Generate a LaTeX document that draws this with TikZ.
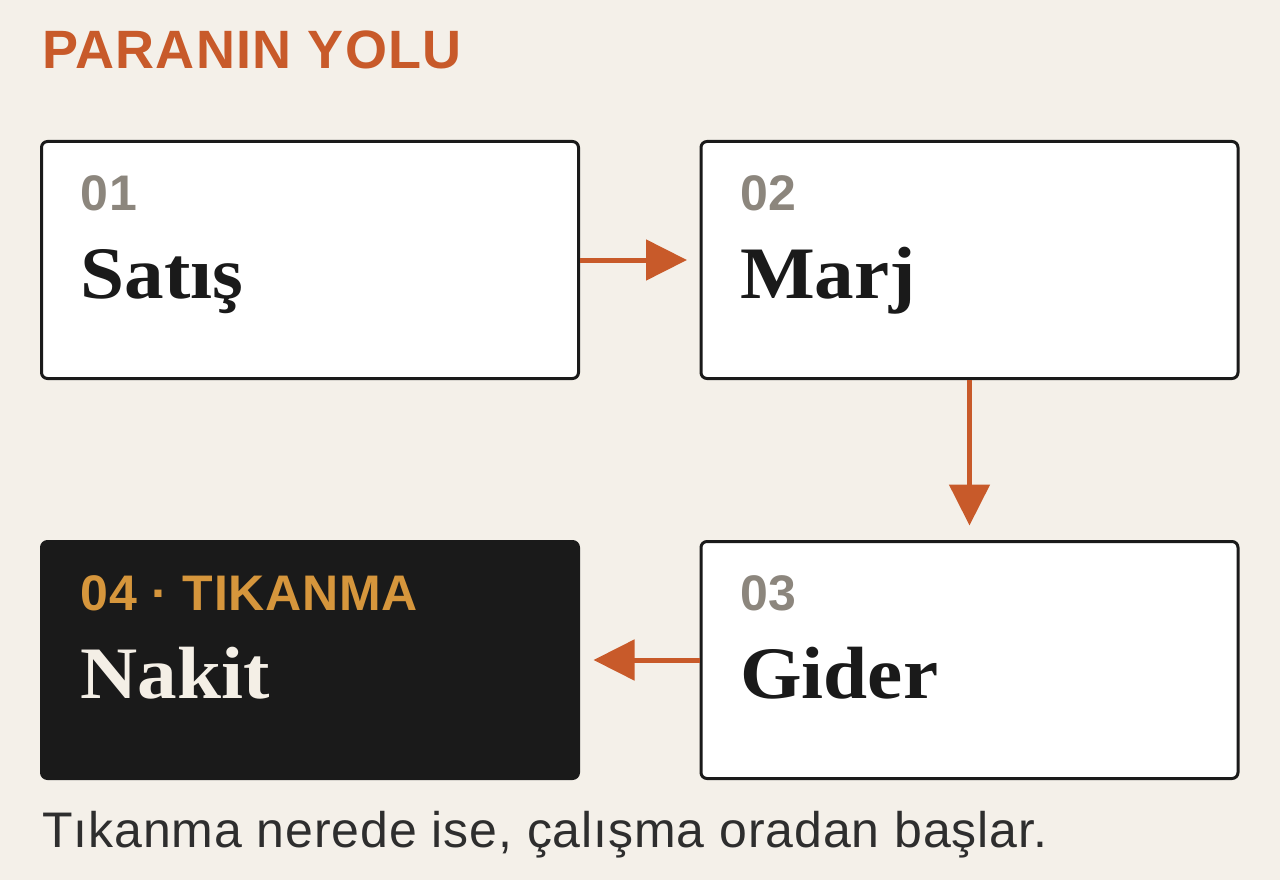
\documentclass[tikz,border=0pt]{standalone}
\usepackage{fontspec}
\setmainfont{Liberation Serif}
\setsansfont{Liberation Sans}
\newfontfamily\titlefont[LetterSpace=2.3]{Liberation Sans}
\newfontfamily\labelfont[LetterSpace=1.5]{Liberation Sans}
\newfontfamily\notefont[LetterSpace=1.8]{Liberation Sans}
\newfontfamily\namefont[FakeStretch=1.07]{Liberation Serif}
\usetikzlibrary{calc,arrows.meta}
\definecolor{paper}{RGB}{244,240,233}
\definecolor{rust}{RGB}{200,90,42}
\definecolor{ink}{RGB}{26,26,26}
\definecolor{stone}{RGB}{140,134,125}
\definecolor{ochre}{RGB}{214,150,60}
\definecolor{cream}{RGB}{244,239,230}
\definecolor{note}{RGB}{46,46,46}
\newcommand{\bw}{537}
\newcommand{\bh}{237}

\begin{document}
\begin{tikzpicture}[x=1pt,y=-1pt,
  stepbox/.style={draw=ink,line width=3pt,fill=white,rounded corners=6pt,
    minimum width=\bw pt,minimum height=\bh pt,inner sep=0pt},
  numtext/.style={anchor=base west,inner sep=0pt,text=stone,
    font=\labelfont\bfseries\fontsize{50}{60}\selectfont},
  nametext/.style={anchor=base west,inner sep=0pt,text=ink,
    font=\namefont\bfseries\fontsize{74}{80}\selectfont},
  flow/.style={draw=rust,line width=5pt,shorten >=#1,
    -{Triangle[length=41pt,width=40pt]}}]
\useasboundingbox (0,0) rectangle (1280,880);
\fill[paper] (0,0) rectangle (1280,880);

\node[anchor=base west,inner sep=0pt,text=rust,
  font=\titlefont\bfseries\fontsize{54}{60}\selectfont] (title) at (42,69) {PARANIN YOLU};

\foreach \n/\x/\y in {s1/310/260,s2/969.5/260,s3/969.5/660}{
\node[stepbox] (\n) at (\x,\y) {};
}
\node[stepbox,draw=ink,fill=ink] (s4) at (310,660) {};

\foreach \n/\num/\name in {s1/01/Satış,s2/02/Marj,s3/03/Gider}{
\node[numtext] (\n num) at ($(\n.north west)+(40.5,70.5)$) {\num};
\node[nametext] (\n name) at ($(\n.north west)+(40.5,158.5)$) {\name};
}
\node[numtext,text=ochre] (s4num) at ($(s4.north west)+(40.5,70.5)$) {04 · TIKANMA};
\node[nametext,text=cream] (s4name) at ($(s4.north west)+(40.5,158.5)$) {Nakit};

\draw[flow=12.5pt] (s1.east) -- (s2.west);
\draw[flow=14.5pt] (s2.south) -- (s3.north);
\draw[flow=13.5pt] (s3.west) -- (s4.east);

\node[anchor=base west,inner sep=0pt,text=note,
  font=\notefont\fontsize{50}{60}\selectfont] (footer) at (42,847)
  {Tıkanma nerede ise, çalışma oradan başlar.};
\end{tikzpicture}
\end{document}
